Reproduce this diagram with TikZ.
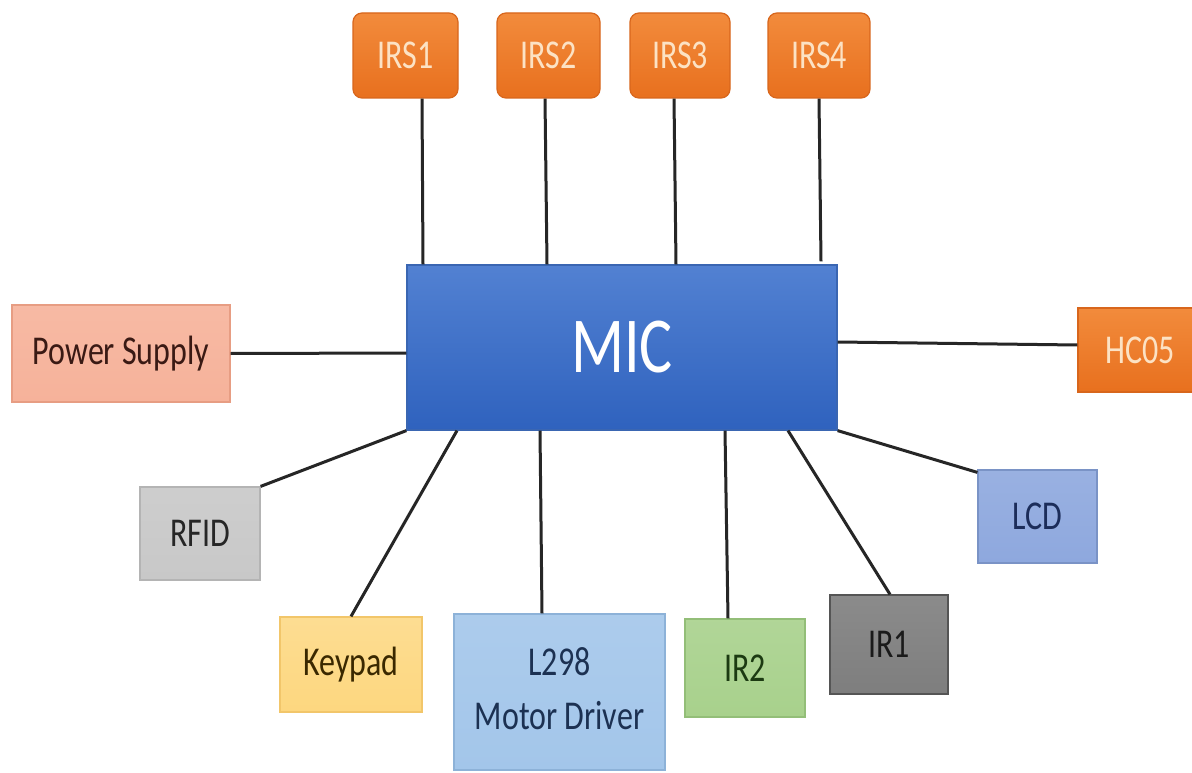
\documentclass[tikz,border=0pt]{standalone}
\usepackage{fontspec}
\setmainfont{Carlito}
\usetikzlibrary{calc}
\newcommand{\T}[1]{\scalebox{1}[1.28]{#1}}
\definecolor{orT}{HTML}{F28B3C}
\definecolor{orB}{HTML}{E8701E}
\definecolor{orD}{HTML}{D8661C}
\definecolor{orTxt}{HTML}{FCE2C4}
\definecolor{micT}{HTML}{5281D2}
\definecolor{micB}{HTML}{2F62BE}
\definecolor{micD}{HTML}{3A66B2}
\definecolor{psF}{HTML}{F6B29A}
\definecolor{psD}{HTML}{E79D83}
\definecolor{psTxt}{HTML}{3A1A14}
\definecolor{lcdF}{HTML}{8EA8DE}
\definecolor{lcdD}{HTML}{7A93C6}
\definecolor{lcdTxt}{HTML}{1C2D5A}
\definecolor{rfF}{HTML}{C8C8C8}
\definecolor{rfD}{HTML}{B4B4B4}
\definecolor{rfTxt}{HTML}{262626}
\definecolor{kpF}{HTML}{FDD77F}
\definecolor{kpD}{HTML}{F2C66A}
\definecolor{kpTxt}{HTML}{3A2800}
\definecolor{lmF}{HTML}{A3C6EA}
\definecolor{lmD}{HTML}{8DB2D8}
\definecolor{lmTxt}{HTML}{1C3152}
\definecolor{irtF}{HTML}{A8D18C}
\definecolor{irtD}{HTML}{93BE78}
\definecolor{irtTxt}{HTML}{1C3A12}
\definecolor{iroF}{HTML}{7E7E7E}
\definecolor{iroD}{HTML}{555555}
\definecolor{iroTxt}{HTML}{1A1A1A}
\definecolor{wire}{HTML}{262626}
\begin{document}
\begin{tikzpicture}[x=1pt,y=-1pt,
  box/.style={inner sep=0pt, line width=1.2pt, font=\fontsize{32}{42}\selectfont},
  orbox/.style={box, draw=orD, top color=orT, bottom color=orB, text=orTxt},
  irsbox/.style={orbox, rounded corners=9pt, minimum height=85pt},
  wireline/.style={draw=wire, line width=3pt}]
\useasboundingbox[fill=white] (0,0) rectangle (1192,773);

% centre unit
\node[box, draw=micD, top color=micT, bottom color=micB, text=white,
      minimum width=430pt, minimum height=165pt,
      font=\fontsize{62}{70}\selectfont] (mic) at (622,347.5) {\T{MIC}};

% top sensors
\node[irsbox, minimum width=105pt] (irs1) at (405.5,55.5) {\T{IRS1}};
\node[irsbox, minimum width=103pt] (irs2) at (548.5,55.5) {\T{IRS2}};
\node[irsbox, minimum width=100pt] (irs3) at (680,55.5) {\T{IRS3}};
\node[irsbox, minimum width=102pt] (irs4) at (819,55.5) {\T{IRS4}};

% side blocks
\node[box, draw=psD, top color=psF!90!white, bottom color=psF, text=psTxt,
      minimum width=218pt, minimum height=97pt] (ps) at (121,353.5) {\T{Power Supply}};
\node[orbox, minimum width=124pt, minimum height=84pt] (hc) at (1140,350) {\T{HC05}};

% lower blocks
\node[box, draw=rfD, top color=rfF!90!white, bottom color=rfF, text=rfTxt,
      minimum width=120pt, minimum height=93pt] (rfid) at (200,533.5) {\T{RFID}};
\node[box, draw=kpD, top color=kpF!85!white, bottom color=kpF, text=kpTxt,
      minimum width=142pt, minimum height=95pt] (kp) at (351,664.5) {\T{Keypad}};
\node[box, draw=lmD, top color=lmF!90!white, bottom color=lmF, text=lmTxt,
      minimum width=211pt, minimum height=156pt] (l298) at (559.5,692)
      {\T{\begin{tabular}{@{}c@{}}L298\\Motor Driver\end{tabular}}};
\node[box, draw=irtD, top color=irtF!90!white, bottom color=irtF, text=irtTxt,
      minimum width=120pt, minimum height=98pt] (ir2) at (745,668) {\T{IR2}};
\node[box, draw=iroD, top color=iroF!90!white, bottom color=iroF, text=iroTxt,
      minimum width=118pt, minimum height=99pt] (ir1) at (889,644.5) {\T{IR1}};
\node[box, draw=lcdD, top color=lcdF!90!white, bottom color=lcdF, text=lcdTxt,
      minimum width=119pt, minimum height=93pt] (lcd) at (1037.5,516.5) {\T{LCD}};

% connectors
\path[wireline]
  ([xshift=16.5pt]irs1.south) -- ([xshift=-199pt]mic.north)
  ([xshift=-3.5pt]irs2.south) -- ([xshift=-75pt]mic.north)
  ([xshift=-6pt]irs3.south) -- ([xshift=54pt]mic.north)
  (irs4.south) -- ([xshift=199pt,yshift=3pt]mic.north)
  (ps.east) -- ([yshift=-5.5pt]mic.west)
  ([yshift=5.5pt]mic.east) -- ([yshift=5pt]hc.west)
  (rfid.north east) -- (mic.south west)
  (kp.north) -- ([xshift=-165pt]mic.south)
  ([xshift=-17.5pt]l298.north) -- ([xshift=-82pt]mic.south)
  ([xshift=-17pt]ir2.north) -- ([xshift=103pt]mic.south)
  ([xshift=1pt]ir1.north) -- ([xshift=166pt]mic.south)
  ([yshift=-3pt]lcd.north west) -- (mic.south east);
\end{tikzpicture}
\end{document}
